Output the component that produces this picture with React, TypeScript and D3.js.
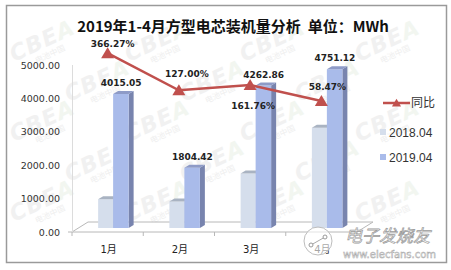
import React from 'react';
import * as d3 from 'd3';

const categories = ['1月', '2月', '3月', '4月'];
const values2018 = [861.1, 794.9, 1628.5, 2998.1];
const values2019 = [4015.05, 1804.42, 4262.86, 4751.12];
const growth = [366.27, 127.0, 161.76, 58.47];
const yTicks = [0, 1000, 2000, 3000, 4000, 5000];
const seriesNames = ['同比', '2018.04', '2019.04'];
const title = '2019年1-4月方型电芯装机量分析\u00A0\u00A0单位：MWh';

const W = 451;
const H = 270;

const C18 = { front: '#D5DEEC', top: '#A9B3C2', side: '#B9C3D3' };
const C19 = { front: '#A9BBEA', top: '#8E9BC7', side: '#7884AE' };
const RED = '#C0504D';

const x = d3.scaleBand<string>().domain(categories).range([72, 357]).paddingInner(0).paddingOuter(0);
const y = d3.scaleLinear().domain([0, 5000]).range([232, 65]);
const yPct = d3.scaleLinear().domain([0, 400]).range([110, 48]);
const cx = (c: string) => (x(c) as number) + x.bandwidth() / 2;

const DX = 6, DY = -4;
const SX = 5, SY = -3;
const BW = 15;

function Bar3D({ x0, w, v, col }: { x0: number; w: number; v: number; col: any }) {
  const yb = y(0) + DY;
  const yt = y(v) + DY;
  const front = `M${x0},${yt}L${x0 + w},${yt}L${x0 + w},${yb}L${x0},${yb}Z`;
  const top = `M${x0},${yt}L${x0 + SX},${yt + SY}L${x0 + w + SX},${yt + SY}L${x0 + w},${yt}Z`;
  const side = `M${x0 + w},${yt}L${x0 + w + SX},${yt + SY}L${x0 + w + SX},${yb + SY}L${x0 + w},${yb}Z`;
  return (
    <g>
      <path d={side} fill={col.side} />
      <path d={front} fill={col.front} />
      <path d={top} fill={col.top} />
    </g>
  );
}

function tri(px: number, py: number, s = 1) {
  return `M${px},${py - 6 * s}L${px + 6.5 * s},${py + 5 * s}L${px - 6.5 * s},${py + 5 * s}Z`;
}

function Watermarks() {
  const items: JSX.Element[] = [];
  for (let r = 0; r < 6; r++) {
    for (let c = 0; c < 4; c++) {
      const wx = 14 + c * 115 + (r % 2) * 55;
      const wy = 62 + r * 40;
      if (wx > 370 || wy > 255) continue;
      items.push(
        <g key={`${r}-${c}`} transform={`translate(${wx},${wy}) rotate(-25)`} opacity={0.5}>
          <text x={0} y={0} fontFamily="DejaVu Sans" fontWeight="bold" fontStyle="italic" fontSize={22} fill="#e4e4e4" letterSpacing={1}>
            CBE<tspan fill="#e6eee3">A</tspan>
          </text>
          <text x={20} y={11} fontFamily="Noto Sans CJK SC" fontSize={8} fill="#e0e0e0">电池中国</text>
        </g>
      );
    }
  }
  return <g>{items}</g>;
}

export default function App() {
  const line = d3.line<number>().x((_, i) => cx(categories[i])).y((d) => yPct(d));
  const pctDy = [-6, -13, 24, -11];
  const pctDx = [5, 8, 3, 6];
  return (
    <svg width={W} height={H} style={{ position: 'absolute', left: 0, top: 0 }} xmlns="http://www.w3.org/2000/svg">
      <rect x={0} y={0} width={W} height={H} fill="#fff" />
      <Watermarks />
      <rect x={6.5} y={5.5} width={440} height={257} fill="none" stroke="#9a9a9a" strokeWidth={1.5} />
      <text x={233} y={32} textAnchor="middle" fontFamily="Noto Sans CJK SC" fontWeight="bold" fontSize={15} fill="#111">{title}</text>

      <path d={`M72,232L357,232L373,222L88,222Z`} fill="none" stroke="#b8b8b8" strokeWidth={1} />
      <line x1={72.5} x2={72.5} y1={65} y2={232} stroke="#dcdcdc" />
      {categories.concat(['end']).map((c, i) => {
        const tx = 72 + i * x.bandwidth();
        return <line key={i} x1={tx} x2={tx} y1={232} y2={236} stroke="#b8b8b8" />;
      })}
      <line x1={68} x2={72} y1={232} y2={232} stroke="#b8b8b8" />

      {yTicks.map((t) => (
        <text key={t} x={60} y={y(t) + 3.5} textAnchor="end" fontFamily="DejaVu Sans" fontSize={9.5} fill="#333">
          {t.toFixed(2)}
        </text>
      ))}

      {categories.map((c, i) => {
        const b = cx(c) + 5.5;
        return (
          <g key={c}>
            <Bar3D x0={b - BW} w={BW} v={values2018[i]} col={C18} />
            <Bar3D x0={b} w={BW + 0.5} v={values2019[i]} col={C19} />
            <text x={b + 8} y={y(values2019[i]) - 12} textAnchor="middle" fontFamily="DejaVu Sans" fontWeight="bold" fontSize={9} fill="#222">
              {values2019[i].toFixed(2)}
            </text>
            <text x={cx(c) + 1} y={253} textAnchor="middle" fontFamily="DejaVu Sans, Noto Sans CJK SC" fontSize={10} fill="#222">
              {c}
            </text>
          </g>
        );
      })}

      <path d={line(growth) || ''} fill="none" stroke={RED} strokeWidth={2.5} />
      {growth.map((g, i) => (
        <g key={i}>
          <path d={tri(cx(categories[i]), yPct(g))} fill={RED} />
          <text x={cx(categories[i]) + pctDx[i]} y={yPct(g) + pctDy[i]} textAnchor="middle" fontFamily="DejaVu Sans" fontWeight="bold" fontSize={9} fill="#222">
            {g.toFixed(2)}%
          </text>
        </g>
      ))}

      <line x1={383} x2={410} y1={103} y2={103} stroke={RED} strokeWidth={2.5} />
      <path d={tri(396.5, 103, 0.7)} fill={RED} />
      <text x={411} y={107} fontFamily="Noto Sans CJK SC" fontSize={12} fill="#333">{seriesNames[0]}</text>
      <rect x={380} y={129} width={6} height={6} fill={C18.front} />
      <text x={389} y={137} fontFamily="Liberation Sans" fontSize={12} fill="#333">{seriesNames[1]}</text>
      <rect x={380} y={154} width={6} height={6} fill={C19.front} />
      <text x={389} y={162} fontFamily="Liberation Sans" fontSize={12} fill="#333">{seriesNames[2]}</text>

      <g>
        <circle cx={318} cy={241} r={14} fill="#fff" fillOpacity={0.6} stroke="#bdbdbd" strokeWidth={1} />
        <line x1={311} x2={325} y1={245} y2={237} stroke="#aaa" strokeWidth={1} />
        <circle cx={311} cy={245} r={2} fill="#fff" stroke="#999" />
        <circle cx={325} cy={237} r={2} fill="#fff" stroke="#999" />
        <text x={345} y={242} fontFamily="Noto Sans CJK SC" fontStyle="italic" fontSize={17} fill="#fff" stroke="#9a9a9a" strokeWidth={0.7}>电子发烧友</text>
        <text x={343} y={258} fontFamily="DejaVu Sans" fontSize={10} fill="#fff" stroke="#a5a5a5" strokeWidth={0.5}>www.elecfans.com</text>
      </g>
    </svg>
  );
}
